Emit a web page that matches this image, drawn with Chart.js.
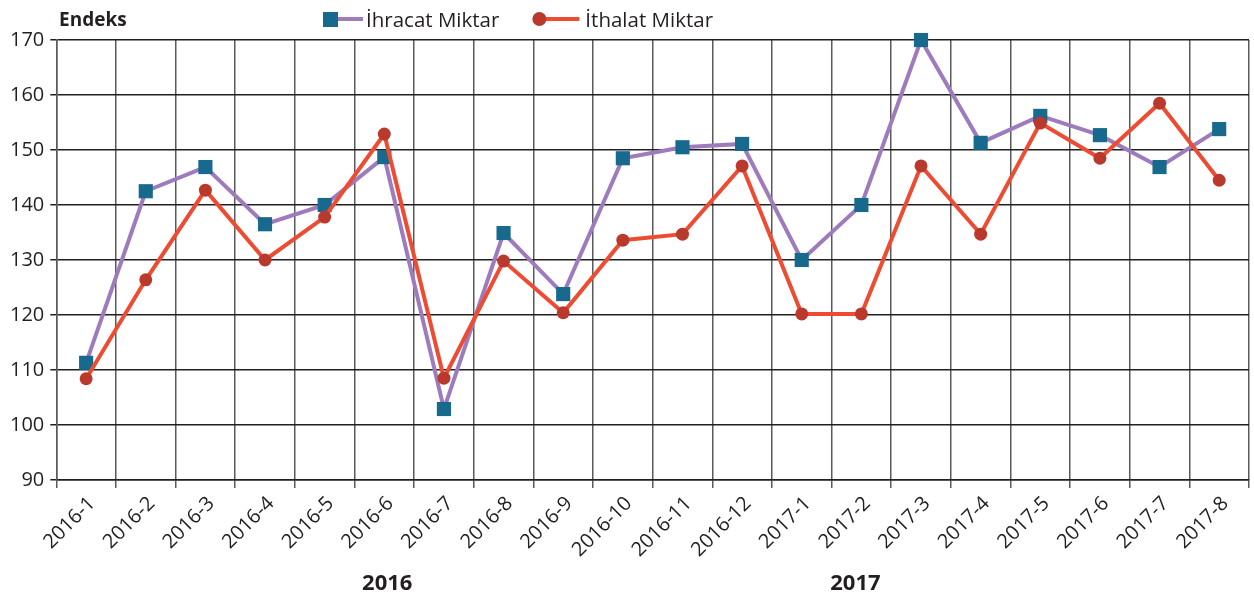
<!DOCTYPE html>
<html>
<head>
<meta charset="utf-8">
<script src="https://cdn.jsdelivr.net/npm/chart.js@4/dist/chart.umd.min.js"></script>
<style>
  html, body { margin: 0; padding: 0; background: #fff; overflow: hidden; }
  #wrap { width: 1254px; height: 597px; overflow: hidden; }
</style>
</head>
<body>
<div id="wrap"><canvas id="endeksChart" width="1259" height="597"></canvas></div>
<script>
const categories = ['2016-1','2016-2','2016-3','2016-4','2016-5','2016-6','2016-7','2016-8','2016-9','2016-10',
  '2016-11','2016-12','2017-1','2017-2','2017-3','2017-4','2017-5','2017-6','2017-7','2017-8'];
const ihracatMiktar = [111.3,142.5,146.9,136.5,140.0,148.7,102.9,134.9,123.8,148.5,
  150.5,151.1,130.0,140.0,170.0,151.3,156.2,152.7,146.9,153.8];
const ithalatMiktar = [108.4,126.4,142.7,130.0,137.8,152.9,108.5,129.8,120.4,133.6,
  134.7,147.1,120.2,120.2,147.1,134.7,154.9,148.5,158.5,144.5];
const yMin = 90, yMax = 170, yStep = 10;
const yAxisTitle = 'Endeks';
const yearLabels = ['2016', '2017'];
const yearAnchors = [5.05, 12.9];   // category index under each year label

const FONT = '"Open Sans", "Noto Sans", sans-serif';
const INK  = '#231f20';

const seriesStyle = [
  { label: 'İhracat Miktar', line: '#9d7bbd', marker: '#17698e', shape: 'rect' },
  { label: 'İthalat Miktar', line: '#ee4b33', marker: '#b93a2c', shape: 'circle' }
];

// title, legend and year labels
const decorations = {
  id: 'decorations',
  afterDraw(chart) {
    const { ctx, scales: { x } } = chart;
    ctx.save();
    ctx.fillStyle = INK;
    ctx.textBaseline = 'alphabetic';
    ctx.textAlign = 'left';
    ctx.font = 'bold 19px ' + FONT;
    ctx.fillText(yAxisTitle, 59, 26);

    // legend
    let lx = 323;
    const ly = 19;
    ctx.font = '20.5px ' + FONT;
    seriesStyle.forEach((s, i) => {
      const startX = lx;
      ctx.strokeStyle = s.line;
      ctx.lineWidth = 4;
      ctx.beginPath();
      ctx.moveTo(startX + 7, ly);
      ctx.lineTo(startX + (i === 0 ? 40 : 48), ly);
      ctx.stroke();
      ctx.fillStyle = s.marker;
      if (s.shape === 'rect') {
        ctx.fillRect(startX, ly - 7, 15, 15);
      } else {
        ctx.beginPath();
        ctx.arc(startX + 8, ly, 7, 0, Math.PI * 2);
        ctx.fill();
      }
      ctx.fillStyle = INK;
      const tx = startX + (i === 0 ? 43 : 54);
      ctx.fillText(s.label, tx, ly + 8);
      lx = tx + ctx.measureText(s.label).width + 32;
    });

    // year labels under the axis
    ctx.font = 'bold 22px ' + FONT;
    ctx.textAlign = 'center';
    yearLabels.forEach((yr, i) => {
      ctx.fillText(yr, x.getPixelForValue(yearAnchors[i]), 590);
    });
    ctx.restore();
  }
};

new Chart(document.getElementById('endeksChart'), {
  type: 'line',
  data: {
    labels: categories,
    datasets: [
      {
        label: seriesStyle[0].label,
        data: ihracatMiktar,
        borderColor: seriesStyle[0].line,
        backgroundColor: seriesStyle[0].marker,
        pointBackgroundColor: seriesStyle[0].marker,
        pointBorderColor: seriesStyle[0].marker,
        pointStyle: 'rect',
        pointRadius: 10, pointBorderWidth: 0,
        borderWidth: 4, tension: 0, clip: false, order: 1
      },
      {
        label: seriesStyle[1].label,
        data: ithalatMiktar,
        borderColor: seriesStyle[1].line,
        backgroundColor: seriesStyle[1].marker,
        pointBackgroundColor: seriesStyle[1].marker,
        pointBorderColor: seriesStyle[1].marker,
        pointStyle: 'circle',
        pointRadius: 6.5, pointBorderWidth: 0,
        borderWidth: 4, tension: 0, clip: false, order: 0
      }
    ]
  },
  options: {
    responsive: false,
    animation: false,
    devicePixelRatio: 1,
    layout: { padding: { top: 40, left: 4, right: 0, bottom: 31 } },
    plugins: { legend: { display: false }, tooltip: { enabled: false }, title: { display: false } },
    scales: {
      x: {
        type: 'category',
        offset: true,
        grid: { offset: true, color: '#5a5a5a', lineWidth: 1.5, tickLength: 8, drawTicks: true },
        border: { display: true, color: INK, width: 1.5 },
        ticks: { autoSkip: false, maxRotation: 45, minRotation: 45, color: INK, padding: 4,
          labelOffset: 6, font: { family: FONT, size: 20 } }
      },
      y: {
        min: yMin, max: yMax,
        grid: { color: INK, lineWidth: 1.5, tickLength: 6 },
        border: { display: true, color: '#5a5a5a', width: 1.5 },
        ticks: { stepSize: yStep, color: INK, padding: 6, font: { family: FONT, size: 20 } }
      }
    }
  },
  plugins: [decorations]
});
</script>
</body>
</html>
